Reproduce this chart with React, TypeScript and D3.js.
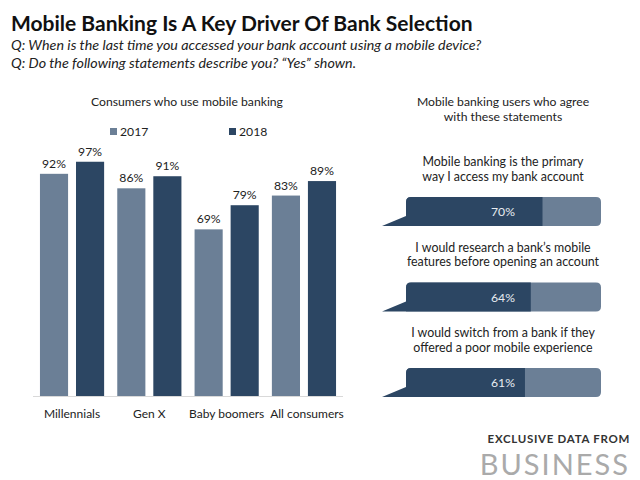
import React, { useEffect, useRef } from 'react';
import * as d3 from 'd3';

const categories = ['Millennials', 'Gen X', 'Baby boomers', 'All consumers'];
const years = ['2017', '2018'];
const values2017 = [92, 86, 69, 83];
const values2018 = [97, 91, 79, 89];

const statements = [
  ['Mobile banking is the primary', 'way I access my bank account'],
  ['I would research a bank\u2019s mobile', 'features before opening an account'],
  ['I would switch from a bank if they', 'offered a poor mobile experience'],
];
const statementValues = [70, 64, 61];

const LIGHT = '#6b7f96';
const DARK = '#2c4663';
const FONT = 'Lato, "Open Sans", sans-serif';
const FS = '12.2px';

const App: React.FC = () => {
  const svgRef = useRef<SVGSVGElement>(null);

  useEffect(() => {
    if (!svgRef.current) return;
    const svg = d3.select(svgRef.current);
    svg.selectAll('*').remove();
    svg.style('font-family', FONT);

    // Titel
    svg.append('text')
      .attr('x', 11).attr('y', 31)
      .style('font-size', '21px').style('font-weight', 'bold')
      .attr('fill', '#111')
      .text('Mobile Banking Is A Key Driver Of Bank Selection');

    const subs = [
      'Q: When is the last time you accessed your bank account using a mobile device?',
      'Q: Do the following statements describe you? \u201CYes\u201D shown.',
    ];
    svg.selectAll('text.sub').data(subs).join('text')
      .attr('class', 'sub')
      .attr('x', 11).attr('y', (_, i) => 50 + i * 18)
      .style('font-size', '14.3px').style('font-style', 'italic')
      .attr('fill', '#222')
      .text(d => d);

    // Bar chart
    const x0 = d3.scaleBand().domain(categories).range([33, 343]).paddingInner(0.17).paddingOuter(0.09);
    const x1 = d3.scaleBand().domain(years).range([0, x0.bandwidth()]).paddingInner(0.22);
    const y = d3.scaleLinear().domain([0, 100]).range([396, 154.5]);
    const color = d3.scaleOrdinal<string>().domain(years).range([LIGHT, DARK]);

    svg.append('text')
      .attr('x', 187).attr('y', 106).attr('text-anchor', 'middle')
      .style('font-size', FS).attr('fill', '#222')
      .text('Consumers who use mobile banking');

    const legendX = [110, 229];
    const lg = svg.selectAll('g.leg').data(years).join('g')
      .attr('class', 'leg')
      .attr('transform', (_, i) => `translate(${legendX[i]},128)`);
    lg.append('rect').attr('width', 7).attr('height', 7).attr('fill', d => color(d));
    lg.append('text').attr('x', 10).attr('y', 7.5)
      .style('font-size', FS).attr('fill', '#222').text(d => d);

    const rows = categories.map((c, i) => ({ c, vals: [values2017[i], values2018[i]] }));
    const groups = svg.selectAll('g.grp').data(rows).join('g')
      .attr('class', 'grp')
      .attr('transform', d => `translate(${x0(d.c)},0)`);

    const bars = groups.selectAll('g.bar')
      .data(d => d.vals.map((v, j) => ({ year: years[j], v })))
      .join('g').attr('class', 'bar');
    bars.append('rect')
      .attr('x', d => x1(d.year)!)
      .attr('y', d => y(d.v))
      .attr('width', x1.bandwidth())
      .attr('height', d => y(0) - y(d.v))
      .attr('fill', d => color(d.year));
    bars.append('text')
      .attr('x', d => x1(d.year)! + x1.bandwidth() / 2)
      .attr('y', d => y(d.v) - 6)
      .attr('text-anchor', 'middle')
      .style('font-size', FS).attr('fill', '#222')
      .text(d => `${d.v}%`);

    groups.append('text')
      .attr('x', (d, i) => x0.bandwidth() / 2 + (i === categories.length - 1 ? 3 : 0))
      .attr('y', 418)
      .attr('text-anchor', 'middle')
      .style('font-size', '12px').attr('fill', '#222')
      .text(d => d.c);

    svg.append('line')
      .attr('x1', 33).attr('x2', 343).attr('y1', 396.5).attr('y2', 396.5)
      .attr('stroke', '#d9d9d9').attr('stroke-width', 1);

    // Rechte Seite
    const cx = 503;
    svg.selectAll('text.rh').data(['Mobile banking users who agree', 'with these statements']).join('text')
      .attr('class', 'rh')
      .attr('x', cx).attr('y', (_, i) => 106 + i * 14.5)
      .attr('text-anchor', 'middle')
      .style('font-size', FS).attr('fill', '#222')
      .text(d => d);

    const sx = d3.scaleLinear().domain([0, 100]).range([406, 601]);
    const rowY = d3.scaleLinear().domain([0, 1]).range([197, 282.5]);
    const barH = 29;
    const r = 5;

    const callouts = svg.selectAll('g.call').data(statementValues).join('g')
      .attr('class', 'call')
      .attr('transform', (_, i) => `translate(0,${rowY(i)})`);

    callouts.append('text')
      .attr('x', cx).attr('y', -31)
      .attr('text-anchor', 'middle')
      .style('font-size', '12.4px').attr('fill', '#222')
      .text((_, i) => statements[i][0]);
    callouts.append('text')
      .attr('x', cx).attr('y', -16.5)
      .attr('text-anchor', 'middle')
      .style('font-size', '12.4px').attr('fill', '#222')
      .text((_, i) => statements[i][1]);

    const x0s = sx(0), x1s = sx(100);
    // hellgrauer Hintergrund mit abgerundeten Ecken
    callouts.append('path')
      .attr('d', () => {
        const p = d3.path();
        p.moveTo(x0s + r, 0);
        p.lineTo(x1s - r, 0);
        p.quadraticCurveTo(x1s, 0, x1s, r);
        p.lineTo(x1s, barH - r);
        p.quadraticCurveTo(x1s, barH, x1s - r, barH);
        p.lineTo(x0s, barH);
        p.lineTo(x0s, r);
        p.quadraticCurveTo(x0s, 0, x0s + r, 0);
        p.closePath();
        return p.toString();
      })
      .attr('fill', LIGHT);

    // dunkler Anteil plus Sprechblasen-Spitze
    callouts.append('path')
      .attr('d', d => {
        const xe = sx(d);
        const p = d3.path();
        p.moveTo(x0s + r, 0);
        p.lineTo(xe, 0);
        p.lineTo(xe, barH);
        p.lineTo(x0s - 24, barH);
        p.lineTo(x0s, barH - 10);
        p.lineTo(x0s, r);
        p.quadraticCurveTo(x0s, 0, x0s + r, 0);
        p.closePath();
        return p.toString();
      })
      .attr('fill', DARK);

    callouts.append('text')
      .attr('x', cx).attr('y', barH / 2 + 4.5)
      .attr('text-anchor', 'middle')
      .style('font-size', FS).attr('fill', '#e8ecf1')
      .text(d => `${d}%`);

    // Footer
    svg.append('text')
      .attr('x', 630).attr('y', 443).attr('text-anchor', 'end')
      .style('font-size', '11.5px').style('font-weight', 'bold')
      .style('letter-spacing', '0.7px')
      .attr('fill', '#333')
      .text('EXCLUSIVE DATA FROM');
    svg.append('text')
      .attr('x', 630).attr('y', 475).attr('text-anchor', 'end')
      .style('font-size', '29px')
      .style('letter-spacing', '2px')
      .attr('fill', '#aaa')
      .text('BUSINESS');
    svg.append('text')
      .attr('x', 630).attr('y', 501).attr('text-anchor', 'end')
      .style('font-size', '29px')
      .style('letter-spacing', '2px')
      .attr('fill', '#aaa')
      .text('INSIDER');
  }, []);

  return (
    <svg
      ref={svgRef}
      width={640}
      height={480}
      style={{ position: 'absolute', left: 0, top: 0, background: '#fff' }}
    />
  );
};

export default App;
